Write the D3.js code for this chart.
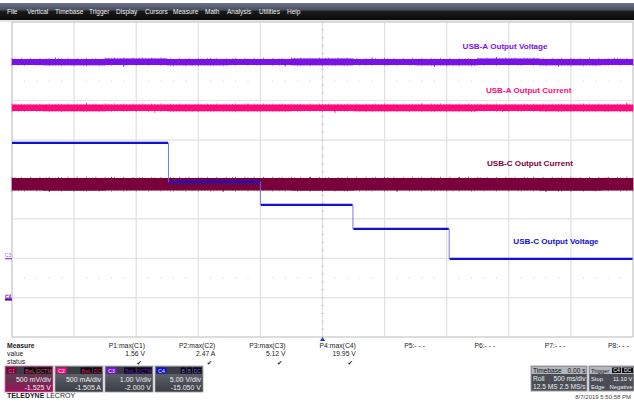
<!DOCTYPE html>
<html><head><meta charset="utf-8">
<script src="https://cdn.jsdelivr.net/npm/d3@7"></script>
<style>
html,body{margin:0;padding:0;background:#fff;}
svg{display:block;font-family:"Liberation Sans",Arial,sans-serif;}
</style></head><body>
<script>
// ---- data ----
const menuItems = ["File","Vertical","Timebase","Trigger","Display","Cursors","Measure","Math","Analysis","Utilities","Help"];
const menuX = [7,27,55,89,116,145,173,205,227,259,287];
// channel settings: V/div and offset
const chNames = ["C1","C2","C3","C4"];
const chColors = ["#7a003c","#ff0a7c","#7a12e6","#1010d8"];
const chVdiv = [0.5,0.5,1.0,5.0];
const chOffset = [-1.525,-1.505,-2.000,-15.050];
const chScaleText = ["500 mV/div","500 mA/div","1.00 V/div","5.00 V/div"];
const chOffsetText = ["-1.525 V","-1.505 A","-2.000 V","-15.050 V"];
const chBadge2 = [["BwL","DCTM"],["BwL","DC"],["BwL","DCTM"],["B","B","DC"]];
// time axis (s), 500 ms/div
const timeDomain = [0,5];
const timeTicks = [0,0.5,1,1.5,2,2.5,3,3.5,4,4.5,5];
// C4 USB-C output voltage steps
const c4StepTimes = [0,1.26,2.0,2.745,3.52,5];
const c4StepVolts = [19.69,14.75,11.83,8.78,4.97];
// noisy channels: envelope min/max (sampled every 0.5 s)
const envTimes = [0,0.5,1,1.5,2,2.5,3,3.5,4,4.5,5];
const c3Min = [4.91,4.90,4.91,4.90,4.91,4.90,4.91,4.90,4.91,4.90,4.91];
const c3Max = [5.06,5.06,5.07,5.06,5.06,5.07,5.06,5.06,5.07,5.06,5.06];
const c2Min = [2.374,2.372,2.374,2.373,2.372,2.374,2.373,2.372,2.374,2.373,2.372];
const c2Max = [2.456,2.456,2.458,2.456,2.457,2.456,2.456,2.458,2.456,2.457,2.456];
const c1Min = [1.385,1.383,1.385,1.384,1.385,1.383,1.385,1.384,1.385,1.383,1.385];
const c1Max = [1.543,1.545,1.543,1.544,1.545,1.543,1.544,1.545,1.543,1.544,1.545];
// spikes (time, value)
const c3Spikes = [[0.35,5.10],[0.9,4.86],[1.6,5.09],[2.2,4.87],[2.9,5.10],[3.4,4.86],[3.9,5.11],[4.4,4.87],[4.85,5.09]];
const c2Spikes = [[0.6,2.48],[1.15,2.35],[1.9,2.47],[2.6,2.35],[3.3,2.47],[3.95,2.36],[4.6,2.47],[4.95,2.48]];
const c1Spikes = [[0.3,1.37],[0.8,1.56],[1.7,1.37],[2.4,1.56],[3.1,1.37],[3.6,1.56],[4.3,1.37],[4.8,1.55]];
const labels = ["USB-A Output Voltage","USB-A Output Current","USB-C Output Current","USB-C Output Voltage"];
const labelCh = [2,1,0,3];
const labelDiv = [3.32,2.20,0.345,-1.64];   // vertical position in divisions from centre
const labelT = [3.97,4.16,4.17,4.38];
// measurements
const measNames = ["P1:max(C1)","P2:max(C2)","P3:max(C3)","P4:max(C4)","P5:- - -","P6:- - -","P7:- - -","P8:- - -"];
const measVals = ["1.56 V","2.47 A","5.12 V","19.95 V","","","",""];
const measOk = [true,true,true,true,false,false,false,false];
const tbRows = [["Timebase","0.00 s"],["Roll","500 ms/div"],["12.5 MS","2.5 MS/s"]];
const trRows = [["Trigger",""],["Stop","11.10 V"],["Edge","Negative"]];
const dateText = "8/7/2019 5:50:58 PM";

// ---- layout ----
const W=634,H=402;
const L=12,R=633,T=22,B=337;
const svg=d3.select("body").append("svg").attr("width",W).attr("height",H);

// menu bar
const defs=svg.append("defs");
const mg=defs.append("linearGradient").attr("id","menu").attr("x1",0).attr("x2",0).attr("y1",0).attr("y2",1);
mg.append("stop").attr("offset","0%").attr("stop-color","#6c7288");
mg.append("stop").attr("offset","40%").attr("stop-color","#4a4f62");
mg.append("stop").attr("offset","50%").attr("stop-color","#1a1a1a");
mg.append("stop").attr("offset","100%").attr("stop-color","#0a0a0a");
svg.append("rect").attr("x",0).attr("y",3).attr("width",W).attr("height",17).attr("fill","url(#menu)");
svg.append("rect").attr("x",0).attr("y",20).attr("width",W).attr("height",2).attr("fill","#e6e6e6");
svg.selectAll("text.menu").data(menuItems).join("text").attr("class","menu")
  .attr("x",(d,i)=>menuX[i]).attr("y",14).attr("fill","#f2f2f2").attr("font-size",6.5).text(d=>d);

// scales
const x=d3.scaleLinear().domain(timeDomain).range([L,R]);
const yS=chVdiv.map((v,i)=>{const c=-chOffset[i];return d3.scaleLinear().domain([c-4*v,c+4*v]).range([B,T]);});
const divY=d3.scaleLinear().domain([-4,4]).range([B,T]);

// grid
const g=svg.append("g");
g.selectAll("line.v").data(timeTicks).join("line").attr("x1",d=>x(d)).attr("x2",d=>x(d))
  .attr("y1",T).attr("y2",B).attr("stroke","#e0e0e0").attr("stroke-width",1.2);
const hd=d3.range(-4,5);
g.selectAll("line.h").data(hd).join("line").attr("x1",L).attr("x2",R)
  .attr("y1",d=>divY(d)).attr("y2",d=>divY(d)).attr("stroke","#e0e0e0").attr("stroke-width",1.2);
g.append("rect").attr("x",L).attr("y",T).attr("width",R-L).attr("height",B-T).attr("fill","none").attr("stroke","#cacaca");
// minor dots rows
const minorT=d3.range(0,5.001,0.1).filter(t=>Math.abs(t*2-Math.round(t*2))>0.01);
[2.5,-2.5].forEach(dv=>{
  g.selectAll(null).data(minorT).join("rect").attr("x",d=>x(d)-0.5).attr("y",divY(dv)-0.5)
   .attr("width",1).attr("height",1).attr("fill","#d4d4d4");
});
// center cross ticks
const minorV=d3.range(-4,4.001,0.2);
g.selectAll(null).data(minorV).join("line").attr("x1",x(2.5)-1.5).attr("x2",x(2.5)+1.5)
  .attr("y1",d=>divY(d)).attr("y2",d=>divY(d)).attr("stroke","#d4d4d4");
g.selectAll(null).data(minorT).join("line").attr("x1",d=>x(d)).attr("x2",d=>x(d))
  .attr("y1",divY(0)-1.5).attr("y2",divY(0)+1.5).attr("stroke","#d4d4d4");

// envelope traces
function band(ch,mn,mx,spikes){
  const ys=yS[ch];
  const area=d3.area().x((d,i)=>x(envTimes[i])).y0((d,i)=>ys(mn[i])).y1((d,i)=>ys(mx[i])).curve(d3.curveStep);
  svg.append("path").datum(mn).attr("d",area).attr("fill",chColors[ch]);
  const fine=d3.range(0,5.0001,0.025);
  svg.append("g").selectAll("line").data(fine).join("line")
    .attr("x1",d=>x(d)).attr("x2",d=>x(d))
    .attr("y1",(d,i)=>ys(mx[Math.round(d*2)]) - (i%3===0?1.2:(i%5===1?0.7:0.2)))
    .attr("y2",(d,i)=>ys(mn[Math.round(d*2)]) + (i%4===0?1.0:(i%7===2?0.8:0.2)))
    .attr("stroke",chColors[ch]).attr("stroke-width",0.6);
  svg.append("g").selectAll("line").data(spikes).join("line")
    .attr("x1",d=>x(d[0])).attr("x2",d=>x(d[0]))
    .attr("y1",d=>ys(d[1])).attr("y2",d=>ys((mn[0]+mx[0])/2))
    .attr("stroke",chColors[ch]).attr("stroke-width",0.8);
}
band(2,c3Min,c3Max,c3Spikes);
band(1,c2Min,c2Max,c2Spikes);
band(0,c1Min,c1Max,c1Spikes);

// C4 step line
const c4pts=[];
c4StepVolts.forEach((v,i)=>{c4pts.push([c4StepTimes[i],v]);c4pts.push([c4StepTimes[i+1],v]);});
svg.append("path").datum(c4pts).attr("fill","none").attr("stroke","#6a6af0").attr("stroke-width",0.9)
  .attr("d",d3.line().x(d=>x(d[0])).y(d=>yS[3](d[1])));
svg.append("g").selectAll("line").data(c4StepVolts).join("line")
  .attr("x1",(d,i)=>x(c4StepTimes[i])+(i?0.5:0)).attr("x2",(d,i)=>x(c4StepTimes[i+1])-0.5)
  .attr("y1",d=>yS[3](d)).attr("y2",d=>yS[3](d)).attr("stroke",chColors[3]).attr("stroke-width",2.2);

// labels
svg.selectAll("text.lab").data(labels).join("text").attr("class","lab")
  .attr("x",(d,i)=>x(labelT[i])).attr("y",(d,i)=>divY(labelDiv[i]))
  .attr("text-anchor","middle").attr("font-size",8.1).attr("font-weight","bold")
  .attr("fill",(d,i)=>chColors[labelCh[i]]).text(d=>d);

// ground markers
const gnd=[[2,yS[2](0)],[0,yS[0](0)],[1,yS[1](0)],[3,yS[3](0)]];
gnd.forEach(([ch,yy],k)=>{
  const off=k>=1? (k-1)*0.8:0;
  svg.append("text").attr("x",5).attr("y",yy-1+off).attr("font-size",5).attr("fill",chColors[ch]).attr("opacity",0.7).text(chNames[ch]);
  svg.append("line").attr("x1",5).attr("x2",12).attr("y1",yy+0.5+off*0.5).attr("y2",yy+0.5+off*0.5).attr("stroke",chColors[ch]).attr("stroke-width",1);
});
// trigger marker
svg.append("path").attr("d",`M${x(2.5)-2.5},${B+4}L${x(2.5)+2.5},${B+4}L${x(2.5)},${B}Z`).attr("fill","#2030e0");

// measure table
const mt=svg.append("g").attr("font-size",6.8).attr("fill","#222");
mt.append("text").attr("x",7).attr("y",348).attr("font-weight","bold").text("Measure");
mt.append("text").attr("x",7).attr("y",356).text("value");
mt.append("text").attr("x",7).attr("y",364).text("status");
const colR=d3.scaleLinear().domain([0,7]).range([145,637]);
mt.selectAll("text.mn").data(measNames).join("text").attr("class","mn").attr("x",(d,i)=>i>=4?Math.min(colR(i)-22,608):colR(i))
  .attr("text-anchor",(d,i)=>i>=4?"start":"end").attr("y",348).text(d=>d);
mt.selectAll("text.mv").data(measVals).join("text").attr("class","mv").attr("x",(d,i)=>colR(i))
  .attr("text-anchor","end").attr("y",356).text(d=>d);
mt.selectAll("text.ok").data(measOk.filter(d=>d)).join("text").attr("class","ok").attr("x",(d,i)=>colR(i)-3)
  .attr("text-anchor","end").attr("y",365).attr("font-size",6.5).attr("font-family","DejaVu Sans").text("✔");

// channel boxes
const boxX=[5,55,105,155];
const bg=defs.append("linearGradient").attr("id","boxg").attr("x1",0).attr("x2",0).attr("y1",0).attr("y2",1);
bg.append("stop").attr("offset","0%").attr("stop-color","#6a6e78");
bg.append("stop").attr("offset","100%").attr("stop-color","#3a3d44");
const sg=defs.append("linearGradient").attr("id","selg").attr("x1",0).attr("x2",0).attr("y1",0).attr("y2",1);
sg.append("stop").attr("offset","0%").attr("stop-color","#5a4a55");
sg.append("stop").attr("offset","55%").attr("stop-color","#6a3050");
sg.append("stop").attr("offset","100%").attr("stop-color","#a0105a");
chNames.forEach((c,i)=>{
  const bx=boxX[i], by=366, bw=48, bh=26;
  const gg=svg.append("g");
  gg.append("rect").attr("x",bx).attr("y",by).attr("width",bw).attr("height",bh)
    .attr("fill",i===0?"url(#selg)":"url(#boxg)").attr("stroke",i===0?"#d86aa0":"#9a9ea6").attr("stroke-width",0.8);
  gg.append("rect").attr("x",bx+1).attr("y",by+1).attr("width",bw-2).attr("height",7).attr("fill","#3a3d44");
  gg.append("rect").attr("x",bx+1.5).attr("y",by+1.5).attr("width",10).attr("height",6).attr("fill",chColors[i]);
  gg.append("text").attr("x",bx+6.5).attr("y",by+6.6).attr("text-anchor","middle").attr("font-size",5).attr("fill",i===0?"#ff5aa0":"#fff").text(c);
  let rx=bx+bw-1.5;
  chBadge2[i].slice().reverse().forEach(b=>{
    const w=b.length*3.2+2;
    gg.append("rect").attr("x",rx-w).attr("y",by+1.5).attr("width",w).attr("height",6).attr("fill","#050505");
    gg.append("text").attr("x",rx-w/2).attr("y",by+6.5).attr("text-anchor","middle").attr("font-size",5).attr("fill",i===3?"#6a6aff":chColors[i]==="#7a003c"?"#ff3a8a":chColors[i]).text(b);
    rx-=w+1;
  });
  gg.append("text").attr("x",bx+bw-2).attr("y",by+16).attr("text-anchor","end").attr("font-size",7).attr("fill","#f0f0f0").text(chScaleText[i]);
  gg.append("text").attr("x",bx+bw-2).attr("y",by+24).attr("text-anchor","end").attr("font-size",7).attr("fill","#f0f0f0").text(chOffsetText[i]);
});
svg.append("text").attr("x",7).attr("y",398).attr("font-size",7).attr("font-weight","bold").attr("fill","#222")
  .text("TELEDYNE").append("tspan").attr("font-weight","normal").text(" LECROY");

// timebase & trigger boxes
function infoBox(bx,bw,rows,fs){
  const gg=svg.append("g");
  gg.append("rect").attr("x",bx).attr("y",366).attr("width",bw).attr("height",25).attr("fill","#4a4d55").attr("stroke","#9a9ea6");
  gg.append("rect").attr("x",bx+0.5).attr("y",366.5).attr("width",bw-1).attr("height",7.5).attr("fill","#b4b6bc");
  rows.forEach((r,k)=>{
    const yy=372.5+k*8.3;
    gg.append("text").attr("x",bx+2).attr("y",yy).attr("font-size",fs).attr("fill",k===0?"#111":"#f0f0f0").text(r[0]);
    if(r[1]) gg.append("text").attr("x",bx+bw-1.5).attr("y",yy).attr("text-anchor","end").attr("font-size",fs).attr("fill",k===0?"#111":"#f0f0f0").text(r[1]);
  });
  return gg;
}
infoBox(531,56,tbRows,6.6);
const tr=infoBox(589,45,trRows,5.8);
tr.append("rect").attr("x",612).attr("y",367.5).attr("width",9).attr("height",5.5).attr("fill","#111");
tr.append("text").attr("x",616.5).attr("y",372).attr("text-anchor","middle").attr("font-size",5).attr("fill","#fff").text("C4");
tr.append("rect").attr("x",622).attr("y",367.5).attr("width",11).attr("height",5.5).attr("fill","#111");
tr.append("text").attr("x",627.5).attr("y",372).attr("text-anchor","middle").attr("font-size",5).attr("fill","#fff").text("DC");
svg.append("text").attr("x",631).attr("y",399).attr("text-anchor","end").attr("font-size",6).attr("fill","#444").text(dateText);
</script>
</body></html>
